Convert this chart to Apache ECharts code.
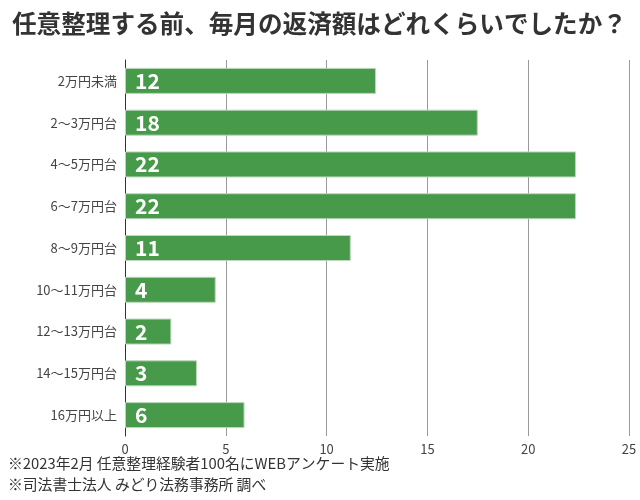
<!DOCTYPE html>
<html><head><meta charset="utf-8">
<script src="https://cdn.jsdelivr.net/npm/echarts@6/dist/echarts.min.js"></script>
<style>html,body{margin:0;padding:0;background:#fff}#c{width:640px;height:500px}</style>
</head><body><div id="c"></div>
<script>
const categories = ['2万円未満','2〜3万円台','4〜5万円台','6〜7万円台','8〜9万円台','10〜11万円台','12〜13万円台','14〜15万円台','16万円以上'];
const barValues = [12.45, 17.5, 22.37, 22.37, 11.2, 4.5, 2.3, 3.57, 5.93];
const labelValues = [12, 18, 22, 22, 11, 4, 2, 3, 6];
const xTicks = [0, 5, 10, 15, 20, 25];
const titleText = '任意整理する前、毎月の返済額はどれくらいでしたか？';
const notes = ['※2023年2月 任意整理経験者100名にWEBアンケート実施', '※司法書士法人 みどり法務事務所 調べ'];

const FONT = '"Noto Sans CJK JP", "Noto Sans", sans-serif';
const chart = echarts.init(document.getElementById('c'), null, {renderer: 'canvas'});
chart.setOption({
  animation: false,
  textStyle: {fontFamily: FONT},
  title: {
    text: titleText, left: 7, top: 6,
    textStyle: {fontFamily: FONT, fontSize: 24.6, fontWeight: 'bold', color: '#333'}
  },
  graphic: notes.map((t, i) => ({
    type: 'text', left: 8, top: 456 + i * 21,
    style: {text: t, fontFamily: FONT, fontSize: 14.8, fill: '#333'}
  })),
  grid: {left: 125, right: 11, top: 60, bottom: 64, containLabel: false},
  xAxis: {
    type: 'value', min: xTicks[0], max: xTicks[xTicks.length - 1], interval: 5,
    axisLine: {show: false}, axisTick: {show: false},
    splitLine: {show: true, lineStyle: {color: '#999', width: 1}},
    axisLabel: {color: '#444', fontSize: 13, margin: 7, fontFamily: FONT}
  },
  yAxis: {
    type: 'category', data: categories, inverse: true,
    axisLine: {show: true, lineStyle: {color: '#333', width: 1}},
    axisTick: {show: false},
    axisLabel: {color: '#444', fontSize: 13, margin: 8, fontFamily: FONT}
  },
  series: [{
    type: 'bar', barWidth: 26,
    data: barValues,
    itemStyle: {color: '#479a49', borderColor: '#bcd7bc', borderWidth: 1},
    label: {
      show: true, position: 'insideLeft', offset: [5, 0],
      formatter: p => String(labelValues[p.dataIndex]),
      color: '#fff', fontSize: 21, fontWeight: 'bold', fontFamily: FONT
    }
  }]
});
</script></body></html>
